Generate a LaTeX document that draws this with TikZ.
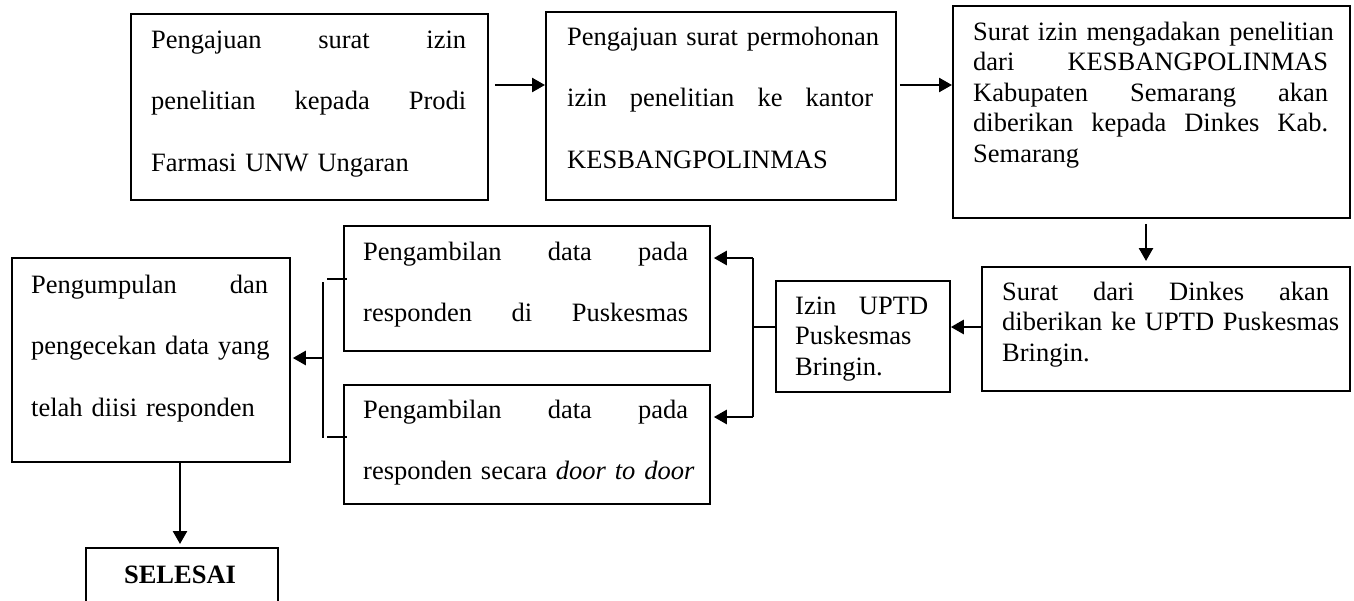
\documentclass[tikz,border=0pt]{standalone}
\usepackage{fontspec}
\setmainfont{Liberation Serif}
\usetikzlibrary{arrows.meta,calc}
\setlength{\parindent}{0pt}
\setlength{\parskip}{0pt}
\newcommand{\jline}[2]{\leavevmode\hbox to #1{#2}}
\newcommand{\fst}{\rule{0pt}{20pt}}
\newcommand{\hs}{ \hfill }
\begin{document}
\begin{tikzpicture}[x=1pt,y=-1pt,
  box/.style={draw, line width=1.8pt, inner sep=0pt, anchor=north west},
  tx/.style={inner sep=0pt, anchor=north west, align=left},
  dbl/.style={tx, font=\fontsize{26.5}{61.5}\selectfont},
  sgl/.style={tx, font=\fontsize{26.5}{30.5}\selectfont},
  arr/.style={line width=2.6pt, -{Triangle[length=13pt,width=14pt]}},
  ln/.style={line width=2.2pt},
  thinln/.style={line width=1.2pt}]
\useasboundingbox (0,0) rectangle (1354,600);

% boxes
\node[box, minimum width=357pt, minimum height=186pt] (b1) at (130,13) {};
\node[box, minimum width=350pt, minimum height=188pt] (b2) at (545,11) {};
\node[box, minimum width=397pt, minimum height=212pt] (b3) at (952,5) {};
\node[box, minimum width=368pt, minimum height=124pt] (b4) at (981,266) {};
\node[box, minimum width=174pt, minimum height=111pt] (b5) at (775,280) {};
\node[box, minimum width=366pt, minimum height=125pt] (b6) at (343,225) {};
\node[box, minimum width=366pt, minimum height=119pt] (b7) at (343,384) {};
\node[box, minimum width=278pt, minimum height=204pt] (b8) at (11,257) {};
\node[box, minimum width=192pt, minimum height=80pt] (b9) at (85,547) {};

% texts
\node[dbl, text width=315pt] (t1) at (151,28) {\fst\jline{315pt}{Pengajuan\hs surat\hs izin}\\
  \jline{315pt}{penelitian\hs kepada\hs Prodi}\\ Farmasi UNW Ungaran};
\node[dbl, text width=306pt] (t2) at (567,25) {\fst\jline{306pt}{Pengajuan\hs surat\hs permohonan}\\
  \jline{306pt}{izin\hs penelitian\hs ke\hs kantor}\\ KESBANGPOLINMAS};
\node[sgl, text width=355pt] (t3) at (973,20) {\fst\jline{355pt}{Surat\hs izin\hs mengadakan\hs penelitian}\\
  \jline{355pt}{dari\hs KESBANGPOLINMAS}\\
  \jline{355pt}{Kabupaten\hs Semarang\hs akan}\\
  \jline{355pt}{diberikan\hs kepada\hs Dinkes\hs Kab.}\\ Semarang};
\node[sgl, text width=328pt] (t4) at (1002,280) {\fst\jline{327pt}{Surat\hs dari\hs Dinkes\hs akan}\\
  \jline{327pt}{diberikan\hs ke\hs UPTD\hs Puskesmas}\\ Bringin.};
\node[sgl, text width=133pt] (t5) at (795,294) {\fst\jline{133pt}{Izin\hs UPTD}\\ Puskesmas\\ Bringin.};
\node[dbl, text width=325pt] (t6) at (363,240) {\fst\jline{325pt}{Pengambilan\hs data\hs pada}\\
  \jline{325pt}{responden\hs di\hs Puskesmas}};
\node[dbl, text width=325pt] (t7) at (363,398) {\fst\jline{325pt}{Pengambilan\hs data\hs pada}\\
  \jline{325pt}{responden\hs secara\hs \textit{door\hs to\hs door}}};
\node[dbl, text width=237pt] (t8) at (31,273) {\fst\jline{237pt}{Pengumpulan\hs dan}\\
  \jline{237pt}{pengecekan\hs data\hs yang}\\ telah diisi responden};
\node[inner sep=0pt, anchor=base, font=\fontsize{26.5}{30.5}\selectfont\bfseries] (t9) at (180,583) {SELESAI};

% connectors
\draw[arr] ([xshift=6pt]b1.east |- 0,85) -- (b2.west |- 0,85);
\draw[arr] ([xshift=3pt]b2.east |- 0,85) -- (b3.west |- 0,85);
\draw[arr] ([yshift=-5pt]b3.south -| 1146,0) -- ([yshift=5pt]b4.north -| 1146,0);
\draw[arr] (b4.west |- 0,327) -- (b5.east |- 0,327);

\coordinate (sp) at (753,258);
\coordinate (sq) at (753,417);
\coordinate (sm) at (753,327);
\draw[ln] (sp) -- (sq);
\draw[thinln] (sm) -- (b5.west |- sm);
\draw[arr] (sp) -- ([xshift=3pt]b6.east |- sp);
\draw[arr] (sq) -- ([xshift=3pt]b7.east |- sq);

\coordinate (lp) at (323,282);
\coordinate (lq) at (323,438);
\coordinate (lm) at (323,358);
\coordinate (lt) at (327,279);
\coordinate (lb) at (327,437);
\draw[ln] (lp) -- (lq);
\draw[thinln] (lt) -- ([xshift=4pt]b6.west |- lt);
\draw[thinln] (lb) -- ([xshift=4pt]b7.west |- lb);
\draw[arr] (lm) -- ([xshift=2pt]b8.east |- lm);

\draw[arr] (b8.south -| 180,0) -- ([yshift=3pt]b9.north -| 180,0);
\end{tikzpicture}
\end{document}
